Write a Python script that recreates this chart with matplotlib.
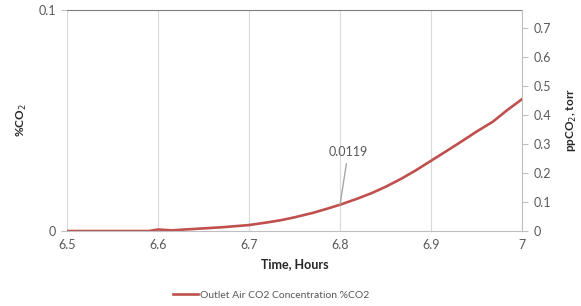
import matplotlib.pyplot as plt
from matplotlib.ticker import FixedLocator

plt.rcParams['font.family'] = ['Lato', 'DejaVu Sans']

# --- Data ---
time_h = [6.5, 6.55, 6.59, 6.6, 6.615, 6.63, 6.65, 6.67, 6.7, 6.72, 6.735, 6.75,
          6.77, 6.785, 6.8, 6.82, 6.835, 6.85, 6.867, 6.883, 6.9, 6.917, 6.933,
          6.95, 6.968, 6.983, 7.0]
co2_pct = [0, 0, 0, 0.0007, 0.0003, 0.0007, 0.0012, 0.0017, 0.0027, 0.0039, 0.0049,
           0.0062, 0.0082, 0.0100, 0.0119, 0.0148, 0.0172, 0.0200, 0.0236, 0.0274,
           0.0318, 0.0362, 0.0404, 0.0450, 0.0495, 0.0545, 0.0597]
x_ticks = [6.5, 6.6, 6.7, 6.8, 6.9, 7.0]
x_ticklabels = ['6.5', '6.6', '6.7', '6.8', '6.9', '7']
right_ticks = [0, 0.1, 0.2, 0.3, 0.4, 0.5, 0.6, 0.7]
label_point = (6.8, 0.0119)

grey = '#595959'
line_color = '#C0504D'

fig = plt.figure(figsize=(5.81, 3.06), dpi=100)
ax = fig.add_axes([0.1153, 0.245, 0.7832, 0.722])

ax.plot(time_h, co2_pct, color=line_color, lw=1.9, label='Outlet Air CO2 Concentration %CO2')
ax.set_xlim(6.5, 7.0)
ax.set_ylim(0, 0.1)
ax.set_xticks(x_ticks)
ax.set_xticklabels(x_ticklabels)
ax.set_yticks([0, 0.1])
ax.set_yticklabels(['0', '0.1'])
ax.grid(axis='x', color='#D9D9D9', lw=0.8)
ax.grid(axis='y', visible=False)

ax.spines['left'].set_visible(False)
ax.spines['bottom'].set_color('#BFBFBF')
ax.spines['top'].set_color('#7F7F7F')
ax.spines['right'].set_visible(False)
ax.tick_params(axis='x', colors=grey, labelsize=9, length=0, pad=6)
ax.tick_params(axis='y', colors=grey, labelsize=9, length=4, color='#BFBFBF', pad=4)

ax.set_xlabel('Time, Hours', fontsize=9, fontweight='bold', color='#262626', labelpad=5)
ax.set_ylabel('%CO$_2$', fontsize=8.5, fontweight='bold', color='#262626', labelpad=7)

# secondary axis, ppCO2 in torr
ax2 = ax.twinx()
ax2.set_ylim(0, 0.76)
ax2.yaxis.set_major_locator(FixedLocator(right_ticks))
ax2.set_yticklabels([f'{t:g}' for t in right_ticks])
for side in ['left', 'top', 'bottom']:
    ax2.spines[side].set_visible(False)
ax2.spines['right'].set_color('#BFBFBF')
ax2.tick_params(axis='y', colors=grey, labelsize=9, length=4, color='#BFBFBF', pad=4)
ax2.set_ylabel('ppCO$_2$, torr', fontsize=8.5, fontweight='bold', color='#262626', labelpad=10)

# data label
ax.annotate('0.0119', xy=label_point, xytext=(6.809, 0.0357),
            fontsize=9, color=grey, ha='center', va='center',
            arrowprops=dict(arrowstyle='-', color='#A6A6A6', lw=1, shrinkA=2, shrinkB=0))

fig.legend(loc='center', bbox_to_anchor=(0.466, 0.036), frameon=False, fontsize=7.5,
           handlelength=2.4, handletextpad=0.2, labelcolor=grey)

plt.savefig('out.png', dpi=100)
